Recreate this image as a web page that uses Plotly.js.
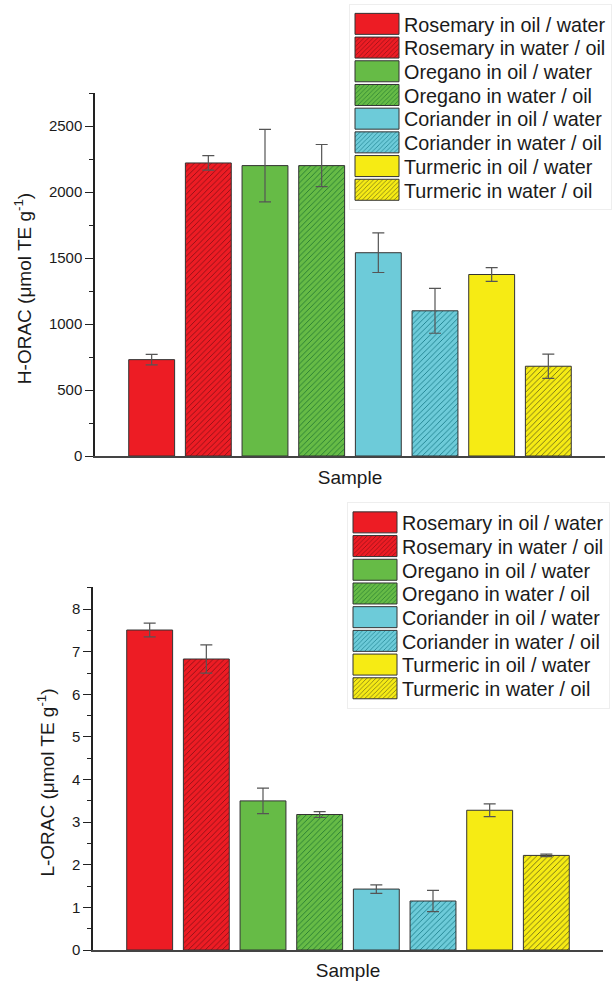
<!DOCTYPE html>
<html>
<head>
<meta charset="utf-8">
<script src="https://cdn.plot.ly/plotly-3.0.1.min.js"></script>
<style>html,body{margin:0;padding:0;background:#fff;}#chart{width:613px;height:981px;}</style>
</head>
<body>
<div id="chart"></div>
<script>
// ---- data ----
const samples = ['Rosemary in oil / water', 'Rosemary in water / oil', 'Oregano in oil / water', 'Oregano in water / oil',
                 'Coriander in oil / water', 'Coriander in water / oil', 'Turmeric in oil / water', 'Turmeric in water / oil'];
const horac    = [730, 2220, 2200, 2200, 1540, 1100, 1375, 680];
const horacErr = [40, 55, 275, 160, 150, 170, 52, 92];
const lorac    = [7.51, 6.83, 3.50, 3.18, 1.43, 1.15, 3.28, 2.22];
const loracErr = [0.16, 0.33, 0.30, 0.07, 0.10, 0.25, 0.15, 0.03];
const fillColors  = ['#ED1C24', '#ED1C24', '#66BB46', '#66BB46', '#6DCBD9', '#6DCBD9', '#F6EB14', '#F6EB14'];
const hatchColors = ['#8a1016', '#8a1016', '#247a30', '#247a30', '#1b7f8c', '#1b7f8c', '#6a6618', '#6a6618'];
const hatched     = [false, true, false, true, false, true, false, true];

const FONT = 'Liberation Sans, Arial, Helvetica, sans-serif';
const traces = [];
function addSet(vals, errs, xa, ya, legendId) {
  samples.forEach((name, i) => {
    traces.push({
      type: 'bar', name: name, x: [name], y: [vals[i]],
      xaxis: xa, yaxis: ya, legend: legendId, width: 0.81,
      marker: {
        color: fillColors[i],
        line: {color: '#333333', width: 1},
        pattern: hatched[i] ? {shape: '/', fgcolor: hatchColors[i], bgcolor: fillColors[i], size: 4, solidity: 0.22} : {shape: ''}
      },
      error_y: {type: 'data', array: [errs[i]], visible: true, color: '#555555', thickness: 1.2, width: 6},
      hoverinfo: 'name+y'
    });
  });
}
addSet(horac, horacErr, 'x', 'y', 'legend');
addSet(lorac, loracErr, 'x2', 'y2', 'legend2');

const W = 613, H = 981;
const xAxisBase = {
  type: 'category', range: [-1, 8], showticklabels: false, ticks: '', showgrid: false, zeroline: false,
  showline: true, linecolor: '#444444', linewidth: 1.5, fixedrange: true,
  title: {text: 'Sample', font: {size: 19, family: FONT, color: '#1a1a1a'}, standoff: 14}
};
const yAxisBase = {
  showgrid: false, zeroline: false, showline: true, linecolor: '#222222', linewidth: 1.5,
  ticks: 'outside', ticklen: 8, tickwidth: 1.2, tickcolor: '#222222',
  tickfont: {size: 15, family: FONT, color: '#1a1a1a'}, fixedrange: true
};
const legendBase = {
  font: {size: 19.8, family: FONT, color: '#1a1a1a'}, itemwidth: 44, tracegroupgap: 0,
  bgcolor: 'rgba(255,255,255,0)', bordercolor: '#eeeeee', borderwidth: 1,
  xanchor: 'left', yanchor: 'top', itemclick: false, itemdoubleclick: false
};

const layout = {
  width: W, height: H, margin: {l: 0, r: 0, t: 0, b: 0, pad: 0},
  paper_bgcolor: '#ffffff', plot_bgcolor: '#ffffff', barmode: 'overlay', showlegend: true,
  font: {family: FONT, color: '#1a1a1a'},
  xaxis: Object.assign({}, xAxisBase, {domain: [95 / W, 605 / W], anchor: 'y'}),
  yaxis: Object.assign({}, yAxisBase, {domain: [1 - 456 / H, 1 - 93 / H], anchor: 'x', range: [0, 2750], tick0: 0, dtick: 500,
    minor: {dtick: 250, ticklen: 4, tickcolor: '#222222', ticks: 'outside'},
    title: {text: 'H-ORAC (\u03bcmol TE g<sup>-1</sup>)', font: {size: 19, family: FONT, color: '#1a1a1a'}, standoff: 12}}),
  xaxis2: Object.assign({}, xAxisBase, {domain: [93 / W, 603 / W], anchor: 'y2'}),
  yaxis2: Object.assign({}, yAxisBase, {domain: [1 - 950 / H, 1 - 587 / H], anchor: 'x2', range: [0, 8.52], tick0: 0, dtick: 1,
    minor: {dtick: 0.5, ticklen: 4, tickcolor: '#222222', ticks: 'outside'},
    title: {text: 'L-ORAC (\u03bcmol TE g<sup>-1</sup>)', font: {size: 19, family: FONT, color: '#1a1a1a'}, standoff: 12}}),
  legend: Object.assign({}, legendBase, {x: 349 / W, y: 1 - 3.5 / H}),
  legend2: Object.assign({}, legendBase, {x: 347 / W, y: 1 - 502 / H})
};

const PITCH = 23.7;
const TITLE_SHIFT = 14;
function fixLayout() {
  ['legend', 'legend2'].forEach(id => {
    const g = document.querySelector('#chart g.' + id);
    if (!g) return;
    g.querySelectorAll('g.legendpoints path').forEach(p => {
      p.setAttribute('d', 'M22,10.5H-22V-10.5H22Z');
    });
    const items = Array.from(g.querySelectorAll('g.traces'));
    if (items.length < 2) return;
    const parse = el => {
      const m = /translate\(\s*([-\d.e]+)[ ,]+([-\d.e]+)\s*\)/.exec(el.getAttribute('transform') || '');
      return m ? [parseFloat(m[1]), parseFloat(m[2])] : null;
    };
    const t0 = parse(items[0]), t1 = parse(items[1]);
    if (!t0 || !t1) return;
    const oldPitch = t1[1] - t0[1];
    if (Math.abs(oldPitch - PITCH) < 0.01) return;
    items.forEach((el, i) => {
      const t = parse(el);
      el.setAttribute('transform', 'translate(' + t[0] + ',' + (t0[1] + i * PITCH) + ')');
    });
    const bg = g.querySelector('rect.bg');
    if (bg) {
      const h = parseFloat(bg.getAttribute('height'));
      bg.setAttribute('height', h - (items.length - 1) * (oldPitch - PITCH));
    }
  });
  document.querySelectorAll('#chart text.ytitle, #chart text.y2title').forEach(t => {
    const tr = t.getAttribute('transform') || '';
    if (tr.indexOf('translate(0,' + TITLE_SHIFT + ')') === 0) return;
    t.setAttribute('transform', 'translate(0,' + TITLE_SHIFT + ') ' + tr);
  });
}
const gd = document.getElementById('chart');
Plotly.newPlot(gd, traces, layout, {displayModeBar: false, responsive: false}).then(() => {
  fixLayout();
  gd.on('plotly_afterplot', fixLayout);
});
</script>
</body>
</html>
